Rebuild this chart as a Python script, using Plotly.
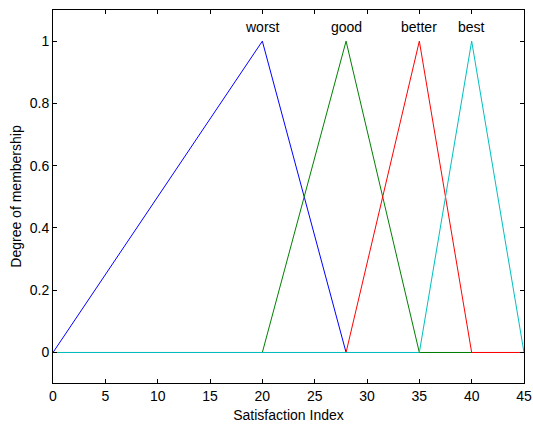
import plotly.graph_objects as go

x_worst = [0, 20, 28, 45]
y_worst = [0, 1, 0, 0]
x_good = [0, 20, 28, 35, 45]
y_good = [0, 0, 1, 0, 0]
x_better = [0, 28, 35, 40, 45]
y_better = [0, 0, 1, 0, 0]
x_best = [0, 35, 40, 45]
y_best = [0, 0, 1, 0]

labels = ["worst", "good", "better", "best"]
label_x = [20, 28, 35, 40]
label_y = 1.047

x_ticks = [0, 5, 10, 15, 20, 25, 30, 35, 40, 45]
y_ticks = [0, 0.2, 0.4, 0.6, 0.8, 1]
y_ticktext = ["0", "0.2", "0.4", "0.6", "0.8", "1"]

FS = 14

fig = go.Figure()
for xs, ys, col in [(x_worst, y_worst, "#0000ff"), (x_good, y_good, "#008000"),
                    (x_better, y_better, "#ff0000"), (x_best, y_best, "#00bfbf")]:
    fig.add_trace(go.Scatter(x=xs, y=ys, mode="lines", line=dict(color=col, width=1),
                             showlegend=False, hoverinfo="skip"))

for t, lx in zip(labels, label_x):
    fig.add_annotation(x=lx, y=label_y, xref="x", yref="y", text=t, showarrow=False,
                       font=dict(size=FS, color="#000000"))

axis_common = dict(showgrid=False, zeroline=False, showline=True, linecolor="black",
                   linewidth=1, mirror="ticks", ticks="inside", ticklen=4, tickcolor="black",
                   tickfont=dict(size=FS, color="#000000"), ticklabeloverflow="allow",
                   automargin=False)

fig.update_xaxes(range=[0, 45], tickvals=x_ticks,
                 title=dict(text="Satisfaction Index", font=dict(size=FS, color="#000000"), standoff=7),
                 **axis_common)
fig.update_yaxes(range=[-0.098, 1.1], tickvals=y_ticks, ticktext=y_ticktext,
                 title=dict(text="Degree of membership", font=dict(size=FS, color="#000000"), standoff=4),
                 **axis_common)

fig.update_layout(width=533, height=424, margin=dict(l=53, r=9, t=10, b=41),
                  paper_bgcolor="white", plot_bgcolor="white",
                  font=dict(family="Liberation Sans, Arial, sans-serif", color="#000000"))

fig.write_html("out.html")
